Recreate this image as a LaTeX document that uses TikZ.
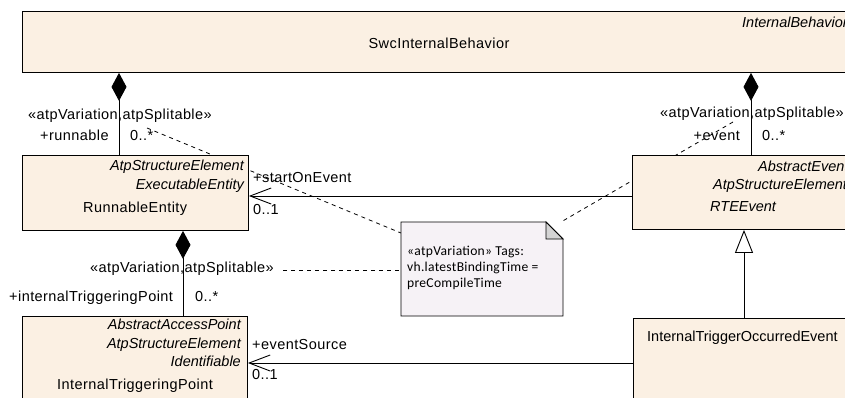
\documentclass[tikz,border=0pt]{standalone}
\usepackage{fontspec}
\setmainfont{Liberation Sans}[LetterSpace=3]
\newfontfamily\tightfont{Liberation Sans}
\newfontfamily\notefont{Carlito}[LetterSpace=2]
\usetikzlibrary{arrows.meta}
\definecolor{clsfill}{RGB}{251,240,227}
\definecolor{notefill}{RGB}{246,242,246}
\definecolor{foldfill}{RGB}{212,212,212}
\begin{document}
\begin{tikzpicture}[x=1pt,y=-1pt,
  cls/.style={draw=black, fill=clsfill, line width=0.9pt, inner sep=0pt, anchor=north west},
  lbl/.style={inner sep=0pt, font=\fontsize{14.5}{17}\selectfont},
  tight/.style={inner sep=0pt, font=\tightfont\fontsize{14.5}{17}\selectfont},
  ital/.style={inner sep=0pt, font=\tightfont\fontsize{14.5}{17}\selectfont\itshape},
  notetxt/.style={inner sep=0pt, anchor=mid west, font=\notefont\fontsize{13.6}{16}\selectfont},
  conn/.style={line width=0.9pt},
  comp/.style={conn, {Diamond[length=28pt,width=15pt]}-},
  nav/.style={conn, {Straight Barb[length=21pt,width=16pt,line width=0.9pt]}-},
  gen/.style={conn, {Triangle[open,length=23pt,width=18pt,fill=white]}-},
  anchorline/.style={line width=0.8pt, dash pattern=on 4pt off 4pt}
]
\useasboundingbox (0,0) rectangle (845,398);
\clip (0,0) rectangle (845,398);

% helper coordinates
\coordinate (xrun) at (119,0);
\coordinate (xev) at (751,0);
\coordinate (xitp) at (183,0);
\coordinate (xgen) at (744,0);
\coordinate (ystart) at (0,196);
\coordinate (ysrc) at (0,363);

% dashed anchor lines (drawn first, hidden behind boxes)
\coordinate (d1a) at (147,128);
\coordinate (d2a) at (733,122);
\coordinate (d3a) at (283,270);
\coordinate (nL1) at (401,233);
\coordinate (nTR) at (561,222);
\coordinate (nL2) at (401,270);
\draw[anchorline] (d1a) -- (nL1);
\draw[anchorline] (d2a) -- (nTR);
\draw[anchorline] (d3a) -- (nL2);

% classes
\node[cls, minimum width=840pt, minimum height=61pt] (swc) at (22,11) {};
\node[cls, minimum width=226pt, minimum height=75pt] (run) at (22,155) {};
\node[cls, minimum width=230pt, minimum height=74pt] (rte) at (632,155) {};
\node[cls, minimum width=230pt, minimum height=100pt] (itoe) at (633,318) {};
\node[cls, minimum width=225pt, minimum height=100pt] (itp) at (22,316) {};

% class texts
\node[lbl, anchor=mid] (t-swc) at (439,46) {SwcInternalBehavior};
\node[ital, anchor=mid west] (t-ib) at (742,25) {InternalBehavior};

\node[ital, anchor=mid east] (t-r1) at (244,168) {AtpStructureElement};
\node[ital, anchor=mid east] (t-r2) at (244,187) {ExecutableEntity};
\node[lbl, anchor=mid west] (t-r3) at (83,210) {RunnableEntity};

\node[ital, anchor=mid west] (t-e1) at (758,169) {AbstractEvent};
\node[ital, anchor=mid west] (t-e2) at (713,187) {AtpStructureElement};
\node[ital, anchor=mid west] (t-e3) at (710,209) {RTEEvent};

\node[tight, anchor=mid west] (t-o1) at (647,339) {InternalTriggerOccurredEvent};

\node[ital, anchor=mid east] (t-p1) at (241,327) {AbstractAccessPoint};
\node[ital, anchor=mid east] (t-p2) at (241,346) {AtpStructureElement};
\node[ital, anchor=mid east] (t-p3) at (241,364) {Identifiable};
\node[lbl, anchor=mid west] (t-p4) at (57,387) {InternalTriggeringPoint};

% note
\coordinate (nNW) at (401,222);
\coordinate (nF1) at (546,222);
\coordinate (nF2) at (563,239);
\coordinate (nF3) at (546,239);
\coordinate (nSE) at (563,316);
\coordinate (nSW) at (401,316);
\draw[line width=0.9pt, fill=notefill] (nNW) -- (nF1) -- (nF2) -- (nSE) -- (nSW) -- cycle;
\draw[line width=0.9pt, fill=foldfill] (nF1) -- (nF3) -- (nF2) -- cycle;
\node[notetxt] (n1) at (407,253) {«atpVariation» Tags:};
\node[notetxt] (n2) at (407,269) {vh.latestBindingTime =};
\node[notetxt] (n3) at (407,285) {preCompileTime};

% connectors
\draw[comp] (swc.south -| xrun) -- (run.north -| xrun);
\draw[comp] (swc.south -| xev) -- (rte.north -| xev);
\draw[comp] (run.south -| xitp) -- (itp.north -| xitp);
\draw[nav] (run.east |- ystart) -- (rte.west |- ystart);
\draw[nav] (itp.east |- ysrc) -- (itoe.west |- ysrc);
\draw[gen] (rte.south -| xgen) -- (itoe.north -| xgen);

% role labels
\node[lbl, anchor=mid west] (l1) at (28,117) {«atpVariation,atpSplitable»};
\node[lbl, anchor=mid west] (l2) at (40,138) {+runnable};
\node[lbl, anchor=mid west] (l3) at (130,138) {0..*};
\node[lbl, anchor=mid west] (l4) at (660,115) {«atpVariation,atpSplitable»};
\node[lbl, anchor=mid east] (l5) at (740,138) {+event};
\node[lbl, anchor=mid west] (l6) at (762,138) {0..*};
\node[lbl, anchor=mid west] (l7) at (253,180) {+startOnEvent};
\node[lbl, anchor=mid west] (l8) at (253,212) {0..1};
\node[lbl, anchor=mid west] (l9) at (90,270) {«atpVariation,atpSplitable»};
\node[lbl, anchor=mid west] (l10) at (9,299) {+internalTriggeringPoint};
\node[lbl, anchor=mid west] (l11) at (195,299) {0..*};
\node[lbl, anchor=mid west] (l12) at (252,347) {+eventSource};
\node[lbl, anchor=mid west] (l13) at (252,377) {0..1};
\end{tikzpicture}
\end{document}
